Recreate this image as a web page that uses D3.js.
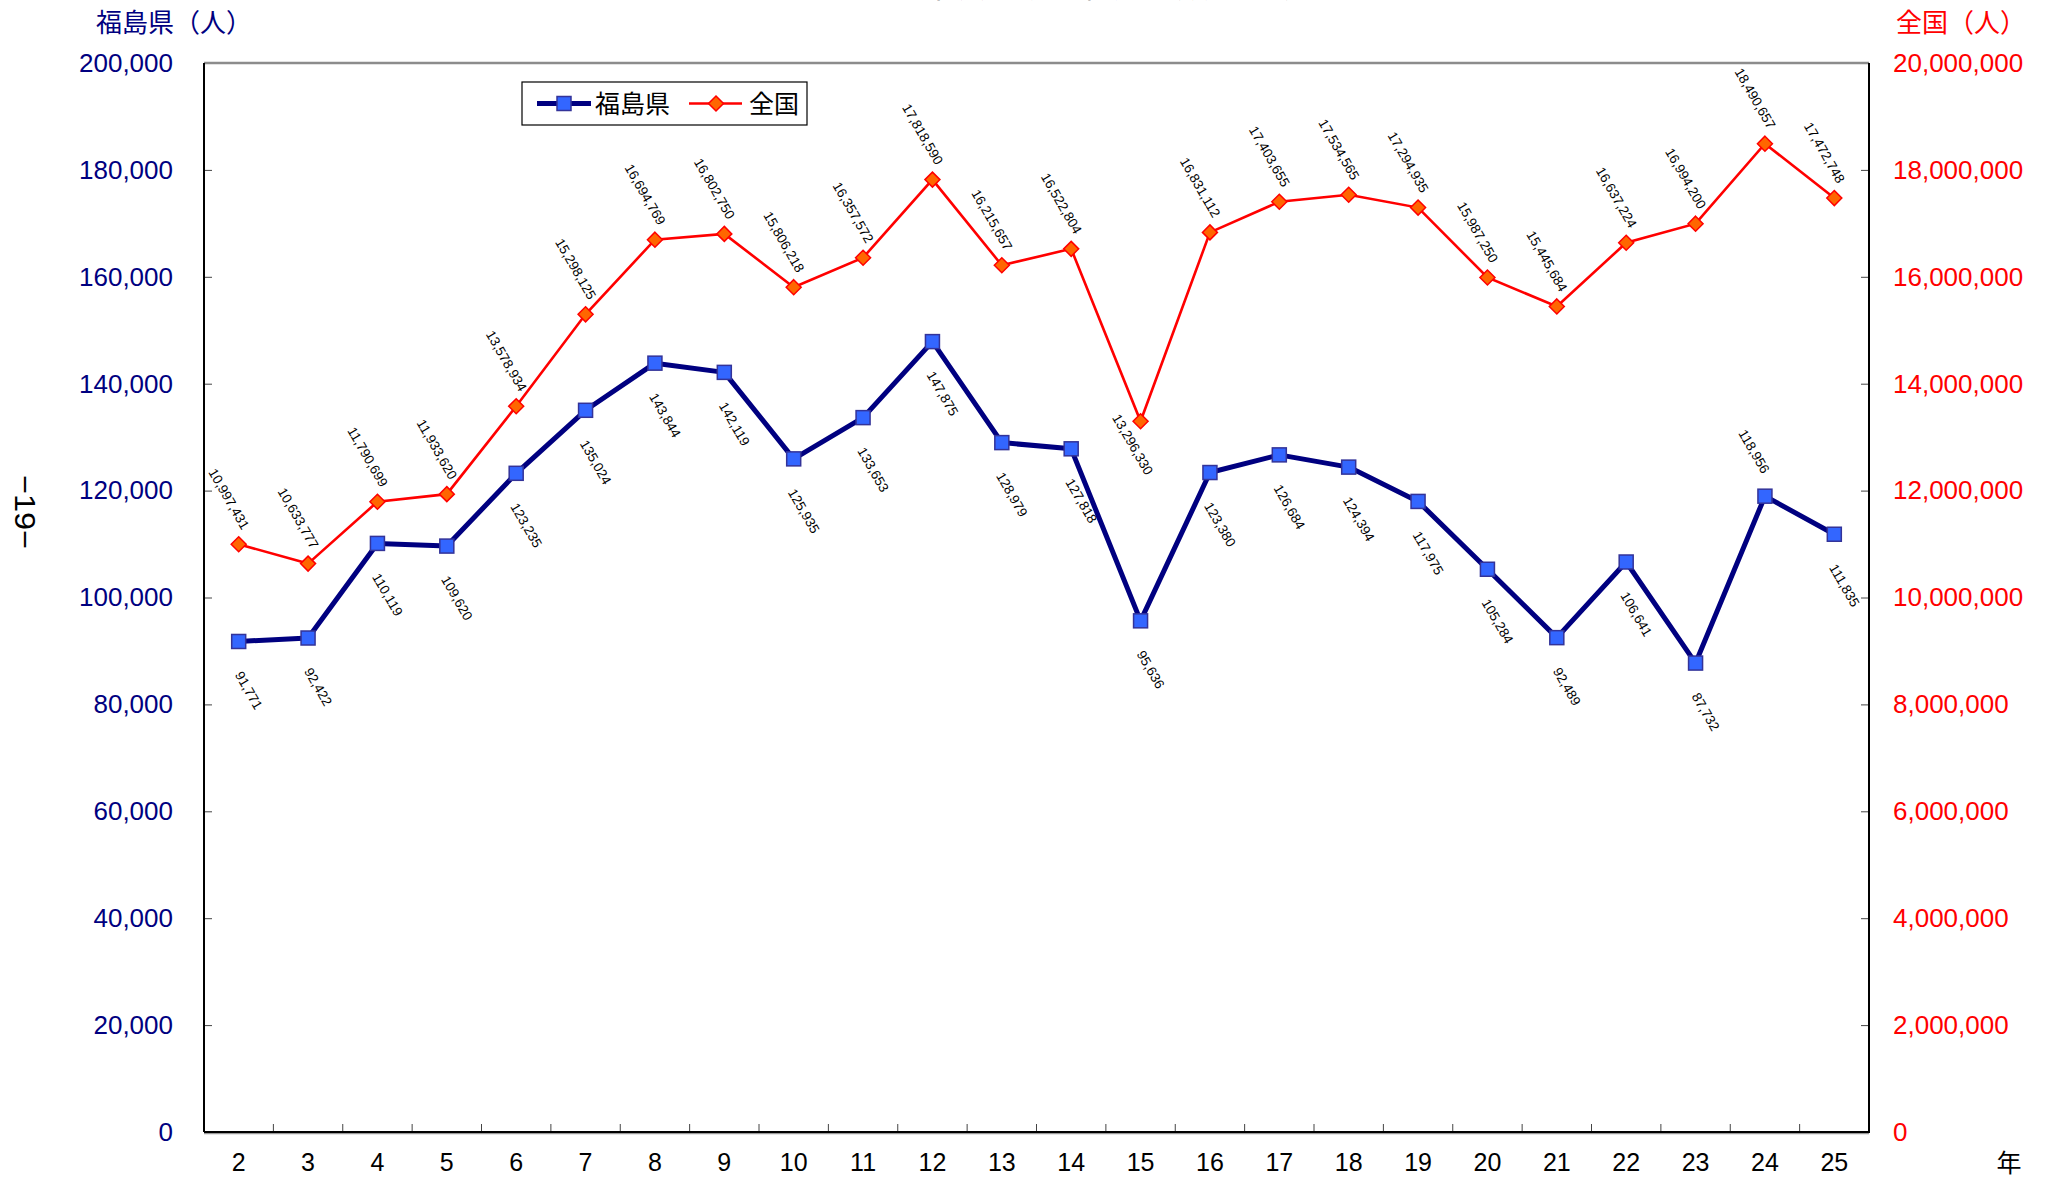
<!DOCTYPE html>
<html>
<head>
<meta charset="utf-8">
<style>
  body { margin: 0; background: #fff; }
  svg text { font-family: "Liberation Sans", Arial, "Noto Sans CJK JP", sans-serif; }
  .jp { font-family: "Noto Sans CJK JP", "Liberation Sans", sans-serif; }
</style>
</head>
<body>
<script src="https://cdn.jsdelivr.net/npm/d3@7"></script>
<script>
// 年 (平成)
const years = ["2","3","4","5","6","7","8","9","10","11","12","13","14","15","16","17","18","19","20","21","22","23","24","25"];
// 福島県 (人)
const fukushima = [91771, 92422, 110119, 109620, 123235, 135024, 143844, 142119, 125935, 133653, 147875, 128979,
                   127818, 95636, 123380, 126684, 124394, 117975, 105284, 92489, 106641, 87732, 118956, 111835];
// 全国 (人)
const zenkoku = [10997431, 10633777, 11790699, 11933620, 13578934, 15298125, 16694769, 16802750, 15806218, 16357572,
                 17818590, 16215657, 16522804, 13296330, 16831112, 17403655, 17534565, 17294935, 15987250, 15445684,
                 16637224, 16994200, 18490657, 17472748];
const leftTicks = [0, 20000, 40000, 60000, 80000, 100000, 120000, 140000, 160000, 180000, 200000];
const rightTicks = [0, 2000000, 4000000, 6000000, 8000000, 10000000, 12000000, 14000000, 16000000, 18000000, 20000000];

// labels that sit on the other side of their point
const fkLabelAbove = ["24"];
const zkLabelBelow = ["15"];

const W = 2050, H = 1179;
const L = 204, R = 1869, T = 63, B = 1132;
const NAVY = "#000080", RED = "#ff0000";

const svg = d3.select("body").append("svg").attr("width", W).attr("height", H);

const x = d3.scaleBand().domain(years).range([L, R]);
const cx = d => x(d) + x.bandwidth() / 2;
const yL = d3.scaleLinear().domain([0, 200000]).range([B, T]);
const yR = d3.scaleLinear().domain([0, 20000000]).range([B, T]);
const fmt = d3.format(",");

// title (cut off at the top of the page)
svg.append("text").attr("class", "jp")
  .attr("x", 1065).attr("y", -3).attr("text-anchor", "middle")
  .style("font-size", "32px").attr("fill", "#000")
  .text("（２）年次別観光客入込数の推移");

// axis titles
svg.append("text").attr("class", "jp").attr("x", 96).attr("y", 32)
  .style("font-size", "26px").attr("fill", NAVY).text("福島県（人）");
svg.append("text").attr("class", "jp").attr("x", 2026).attr("y", 32).attr("text-anchor", "end")
  .style("font-size", "26px").attr("fill", RED).text("全国（人）");
svg.append("text").attr("class", "jp").attr("x", 2009).attr("y", 1172).attr("text-anchor", "middle")
  .style("font-size", "25px").attr("fill", "#000").text("年");

// page number
svg.append("text").attr("transform", "translate(25,512) rotate(90)")
  .attr("text-anchor", "middle").attr("dominant-baseline", "central")
  .style("font-size", "30px").attr("fill", "#000")
  .attr("textLength", 74).attr("lengthAdjust", "spacingAndGlyphs")
  .text("−19−");

// left axis
const gl = svg.append("g").attr("transform", `translate(${L},0)`)
  .call(d3.axisLeft(yL).tickValues(leftTicks).tickSize(-8).tickPadding(31).tickFormat(fmt));
gl.select(".domain").remove();
gl.selectAll(".tick line").attr("stroke", "#444");
gl.selectAll(".tick text").attr("fill", NAVY).style("font-size", "26px").style("font-family", "Liberation Sans, Arial");

// right axis
const gr = svg.append("g").attr("transform", `translate(${R},0)`)
  .call(d3.axisRight(yR).tickValues(rightTicks).tickSize(-8).tickPadding(24).tickFormat(fmt));
gr.select(".domain").remove();
gr.selectAll(".tick line").attr("stroke", "#444");
gr.selectAll(".tick text").attr("fill", RED).style("font-size", "26px").style("font-family", "Liberation Sans, Arial");

// bottom axis labels
const gb = svg.append("g").attr("transform", `translate(0,${B})`)
  .call(d3.axisBottom(x).tickSize(0).tickPadding(21));
gb.select(".domain").remove();
gb.selectAll(".tick text").attr("fill", "#000").style("font-size", "25px").style("font-family", "Liberation Sans, Arial");

// category boundary ticks
svg.append("g").selectAll("line")
  .data(years.slice(1))
  .enter().append("line")
  .attr("x1", d => x(d)).attr("x2", d => x(d))
  .attr("y1", B).attr("y2", B - 8)
  .attr("stroke", "#444").attr("stroke-width", 1);

// plot frame
svg.append("line").attr("x1", L).attr("x2", R).attr("y1", T).attr("y2", T)
  .attr("stroke", "#8c8c8c").attr("stroke-width", 2.5);
svg.append("line").attr("x1", L).attr("x2", L).attr("y1", T).attr("y2", B)
  .attr("stroke", "#000").attr("stroke-width", 2);
svg.append("line").attr("x1", R).attr("x2", R).attr("y1", T).attr("y2", B)
  .attr("stroke", "#000").attr("stroke-width", 2);
svg.append("line").attr("x1", L).attr("x2", R).attr("y1", B + 1.5).attr("y2", B + 1.5)
  .attr("stroke", "#999").attr("stroke-width", 1.5);
svg.append("line").attr("x1", L).attr("x2", R + 1).attr("y1", B).attr("y2", B)
  .attr("stroke", "#000").attr("stroke-width", 2);

// lines
const zkData = years.map((d, i) => ({ year: d, v: zenkoku[i] }));
const fkData = years.map((d, i) => ({ year: d, v: fukushima[i] }));

svg.append("path").datum(zkData)
  .attr("fill", "none").attr("stroke", RED).attr("stroke-width", 2.6)
  .attr("d", d3.line().x(d => cx(d.year)).y(d => yR(d.v)));
svg.append("path").datum(fkData)
  .attr("fill", "none").attr("stroke", NAVY).attr("stroke-width", 5).attr("stroke-linejoin", "round")
  .attr("d", d3.line().x(d => cx(d.year)).y(d => yL(d.v)));

// markers
function diamond(sel) {
  sel.attr("d", "M0,-7.5L7.5,0L0,7.5L-7.5,0Z")
    .attr("fill", "#ff6600").attr("stroke", RED).attr("stroke-width", 1.5);
}
function square(sel) {
  sel.attr("x", -7).attr("y", -7).attr("width", 14).attr("height", 14)
    .attr("fill", "#3366ff").attr("stroke", "#333399").attr("stroke-width", 1.5);
}

svg.append("g").selectAll("path")
  .data(zkData).enter().append("path")
  .attr("transform", d => `translate(${cx(d.year)},${yR(d.v)})`)
  .call(diamond);
svg.append("g").selectAll("rect")
  .data(fkData).enter().append("rect")
  .attr("transform", d => `translate(${cx(d.year)},${yL(d.v)})`)
  .call(square);

// data labels, rotated 60 degrees
const ANG = 60, SIN = Math.sin(ANG * Math.PI / 180), COS = Math.cos(ANG * Math.PI / 180), TH = 12;

function placeLabels(g, data, yScale, rule) {
  g.selectAll("text")
    .data(data).enter().append("text")
    .attr("text-anchor", "middle").attr("dominant-baseline", "central")
    .style("font-size", "13.5px").attr("fill", "#000")
    .text(d => fmt(d.v))
    .each(function (d) {
      const len = this.getComputedTextLength();
      const boxH = len * SIN + TH * COS;
      const mx = cx(d.year), my = yScale(d.v);
      const p = rule(d, mx, my, boxH);
      d3.select(this).attr("transform", `translate(${p[0]},${p[1]}) rotate(${ANG})`);
    });
}

placeLabels(svg.append("g"), zkData, yR, (d, mx, my, h) =>
  zkLabelBelow.includes(d.year) ? [mx - 8, my - 9 + h / 2] : [mx - 10, my - 13 - h / 2]);
placeLabels(svg.append("g"), fkData, yL, (d, mx, my, h) =>
  fkLabelAbove.includes(d.year) ? [mx - 11, my - 21 - h / 2] : [mx + 10, my + 28 + h / 2]);

// legend
const lg = svg.append("g").attr("transform", "translate(522,82)");
lg.append("rect").attr("width", 285).attr("height", 43)
  .attr("fill", "#fff").attr("stroke", "#000").attr("stroke-width", 1.2);
lg.append("line").attr("x1", 15).attr("x2", 69).attr("y1", 21.5).attr("y2", 21.5)
  .attr("stroke", NAVY).attr("stroke-width", 5);
lg.append("rect").attr("transform", "translate(42,21.5)").call(square);
lg.append("text").attr("class", "jp").attr("x", 73).attr("y", 30.5)
  .style("font-size", "25px").attr("fill", "#000").text("福島県");
lg.append("line").attr("x1", 167).attr("x2", 220).attr("y1", 21.5).attr("y2", 21.5)
  .attr("stroke", RED).attr("stroke-width", 2.6);
lg.append("path").attr("transform", "translate(194,21.5)").call(diamond);
lg.append("text").attr("class", "jp").attr("x", 227).attr("y", 30.5)
  .style("font-size", "25px").attr("fill", "#000").text("全国");
</script>
</body>
</html>
